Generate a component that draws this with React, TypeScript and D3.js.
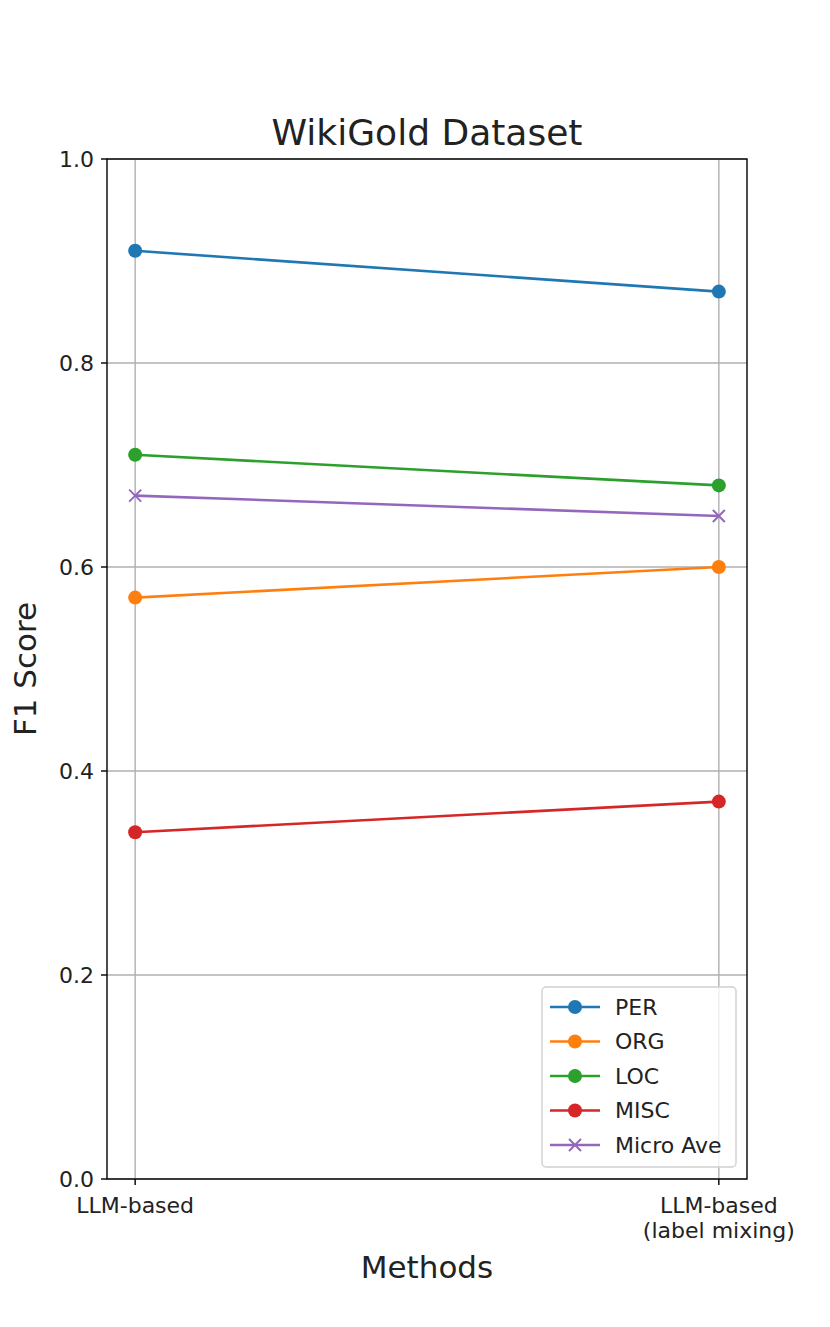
import React from "react";
import * as d3 from "d3";

const methods = ["LLM-based", "LLM-based\n(label mixing)"];
const seriesNames = ["PER", "ORG", "LOC", "MISC", "Micro Ave"];
const perScores = [0.91, 0.87];
const orgScores = [0.57, 0.6];
const locScores = [0.71, 0.68];
const miscScores = [0.34, 0.37];
const microScores = [0.67, 0.65];
const yTicks = [0, 0.2, 0.4, 0.6, 0.8, 1.0];

const colors = ["#1f77b4", "#ff7f0e", "#2ca02c", "#d62728", "#9467bd"];
const markers = ["o", "o", "o", "o", "x"];

const W = 830;
const H = 1327;
const m = { left: 107, right: 747, top: 159, bottom: 1179 };
const font = "DejaVu Sans, sans-serif";

const App: React.FC = () => {
	// matplotlib-like x margins: points sit a bit inside the axes
	const x = d3
		.scalePoint<string>()
		.domain(methods)
		.range([m.left + (m.right - m.left) * 0.044, m.right - (m.right - m.left) * 0.044]);
	const xPos = (i: number) => x(methods[i]) as number;
	const y = d3.scaleLinear().domain([0, 1]).range([m.bottom, m.top]);

	const all = [perScores, orgScores, locScores, miscScores, microScores];
	const line = d3
		.line<number>()
		.x((_, i) => xPos(i))
		.y((d) => y(d));

	const marker = (k: number, cx: number, cy: number, key: string) =>
		markers[k] === "o" ? (
			<circle key={key} cx={cx} cy={cy} r={7} fill={colors[k]} />
		) : (
			<path
				key={key}
				d={`M${cx - 6},${cy - 6}L${cx + 6},${cy + 6}M${cx - 6},${cy + 6}L${cx + 6},${cy - 6}`}
				stroke={colors[k]}
				strokeWidth={2}
			/>
		);

	const lg = { x: 542, y: 987, w: 194, h: 180 };

	return (
		<svg width={W} height={H} style={{ display: "block", margin: -8 }}>
			<rect width={W} height={H} fill="white" />
			{/* grid */}
			{yTicks.map((t) => (
				<line key={"gy" + t} x1={m.left} x2={m.right} y1={y(t)} y2={y(t)} stroke="#b0b0b0" strokeWidth={1.4} />
			))}
			{methods.map((_, i) => (
				<line key={"gx" + i} x1={xPos(i)} x2={xPos(i)} y1={m.top} y2={m.bottom} stroke="#b0b0b0" strokeWidth={1.4} />
			))}
			{/* series */}
			{all.map((s, k) => (
				<g key={seriesNames[k]}>
					<path d={line(s) || ""} fill="none" stroke={colors[k]} strokeWidth={2.6} />
					{s.map((v, i) => marker(k, xPos(i), y(v), seriesNames[k] + i))}
				</g>
			))}
			{/* frame */}
			<rect x={m.left} y={m.top} width={m.right - m.left} height={m.bottom - m.top} fill="none" stroke="black" strokeWidth={1.4} />
			{/* y ticks */}
			{yTicks.map((t) => (
				<g key={"ty" + t}>
					<line x1={m.left - 6} x2={m.left} y1={y(t)} y2={y(t)} stroke="black" strokeWidth={1.4} />
					<text x={m.left - 13} y={y(t)} dy="0.36em" textAnchor="end" fontFamily={font} fontSize={22} fill="#222">
						{t.toFixed(1)}
					</text>
				</g>
			))}
			{/* x ticks */}
			{methods.map((lab, i) => (
				<g key={"tx" + i}>
					<line x1={xPos(i)} x2={xPos(i)} y1={m.bottom} y2={m.bottom + 6} stroke="black" strokeWidth={1.4} />
					{lab.split("\n").map((ln, j) => (
						<text key={j} x={xPos(i)} y={m.bottom + 34 + j * 25} textAnchor="middle" fontFamily={font} fontSize={22} fill="#222">
							{ln}
						</text>
					))}
				</g>
			))}
			{/* labels */}
			<text x={(m.left + m.right) / 2} y={145} textAnchor="middle" fontFamily={font} fontSize={36} fill="#222">
				WikiGold Dataset
			</text>
			<text x={(m.left + m.right) / 2} y={1278} textAnchor="middle" fontFamily={font} fontSize={31} fill="#222">
				Methods
			</text>
			<text transform={`translate(36,${(m.top + m.bottom) / 2}) rotate(-90)`} textAnchor="middle" fontFamily={font} fontSize={31} fill="#222">
				F1 Score
			</text>
			{/* legend */}
			<rect x={lg.x} y={lg.y} width={lg.w} height={lg.h} rx={4} fill="white" fillOpacity={0.8} stroke="#d0d0d0" strokeWidth={1.4} />
			{seriesNames.map((n, k) => {
				const ly = lg.y + 20 + k * 34.5;
				return (
					<g key={"lg" + n}>
						<line x1={lg.x + 8} x2={lg.x + 58} y1={ly} y2={ly} stroke={colors[k]} strokeWidth={2.6} />
						{marker(k, lg.x + 33, ly, "lm" + k)}
						<text x={lg.x + 73} y={ly} dy="0.36em" fontFamily={font} fontSize={22} fill="#222">
							{n}
						</text>
					</g>
				);
			})}
		</svg>
	);
};

export default App;
